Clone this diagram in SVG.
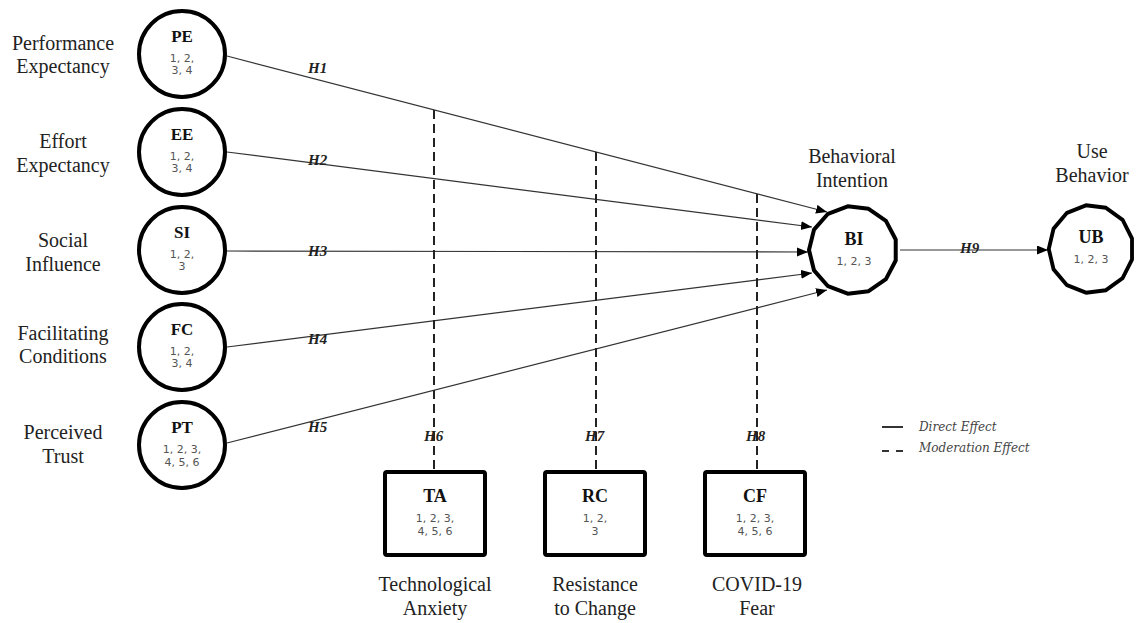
<svg xmlns="http://www.w3.org/2000/svg" xmlns:xlink="http://www.w3.org/1999/xlink" width="1137" height="623" viewBox="0 0 1137 623">
<style>
.lbl{font-family:"Liberation Serif","Times New Roman",serif;font-size:20px;fill:#222;text-anchor:middle}
.ttl{font-family:"Liberation Serif","Times New Roman",serif;font-size:17px;font-weight:bold;fill:#111;text-anchor:middle}
.num{font-family:"DejaVu Sans","Liberation Sans",sans-serif;font-size:11px;fill:#555;text-anchor:middle}
.hyp{font-family:"Liberation Serif","Times New Roman",serif;font-size:15px;font-weight:bold;font-style:italic;fill:#222}
.leg{font-family:"DejaVu Serif","Liberation Serif",serif;font-size:12px;font-style:italic;fill:#444}
.node{fill:#fff;stroke:#000;stroke-width:4;stroke-linejoin:round}
.direct{stroke:#333;stroke-width:1.2;fill:none}
.mod{stroke:#222;stroke-width:2;stroke-dasharray:9 5;fill:none}
</style>
<defs>
<marker id="arr" markerUnits="userSpaceOnUse" markerWidth="12" markerHeight="10" refX="11" refY="4.5" orient="auto">
<path d="M0,0 L11,4.5 L0,9 z" fill="#000"/>
</marker>
<polygon id="poly13" points="-44,0 -38.96,-20.45 -25,-36.21 -5.3,-43.68 15.6,-41.14 32.93,-29.18 42.72,-10.53 42.72,10.53 32.93,29.18 15.6,41.14 -5.3,43.68 -25,36.21 -38.96,20.45"/>
</defs>
<rect width="1137" height="623" fill="#fff"/>

<g id="connectors">
<line class="direct" x1="227" y1="56" x2="827" y2="212" marker-end="url(#arr)"/>
<line class="direct" x1="227" y1="152" x2="812" y2="227" marker-end="url(#arr)"/>
<line class="direct" x1="227" y1="251" x2="808" y2="252" marker-end="url(#arr)"/>
<line class="direct" x1="227" y1="347" x2="812" y2="273" marker-end="url(#arr)"/>
<line class="direct" x1="227" y1="443" x2="827" y2="290" marker-end="url(#arr)"/>
<line class="direct" x1="900" y1="250" x2="1048" y2="250" marker-end="url(#arr)"/>
<line class="mod" x1="434" y1="110" x2="434" y2="470"/>
<line class="mod" x1="596" y1="152" x2="596" y2="470"/>
<line class="mod" x1="757" y1="194" x2="757" y2="470"/>
<text class="hyp" x="308" y="73">H1</text>
<text class="hyp" x="308" y="165">H2</text>
<text class="hyp" x="308" y="256">H3</text>
<text class="hyp" x="308" y="344">H4</text>
<text class="hyp" x="308" y="432">H5</text>
<text class="hyp" x="424" y="441">H6</text>
<text class="hyp" x="585" y="441">H7</text>
<text class="hyp" x="746" y="441">H8</text>
<text class="hyp" x="960" y="253">H9</text>
</g>

<g id="PE">
<circle class="node" cx="182" cy="54" r="43"/>
<text class="ttl" x="182" y="42">PE</text>
<text class="num" x="182" y="62">1, 2,</text>
<text class="num" x="182" y="74">3, 4</text>
<text class="lbl" x="63" y="50">Performance</text>
<text class="lbl" x="63" y="73">Expectancy</text>
</g>
<g id="EE">
<circle class="node" cx="182" cy="152" r="43"/>
<text class="ttl" x="182" y="140">EE</text>
<text class="num" x="182" y="160">1, 2,</text>
<text class="num" x="182" y="172">3, 4</text>
<text class="lbl" x="63" y="148">Effort</text>
<text class="lbl" x="63" y="172">Expectancy</text>
</g>
<g id="SI">
<circle class="node" cx="182" cy="250" r="43"/>
<text class="ttl" x="182" y="238">SI</text>
<text class="num" x="182" y="258">1, 2,</text>
<text class="num" x="182" y="270">3</text>
<text class="lbl" x="63" y="247">Social</text>
<text class="lbl" x="63" y="271">Influence</text>
</g>
<g id="FC">
<circle class="node" cx="182" cy="347" r="43"/>
<text class="ttl" x="182" y="335">FC</text>
<text class="num" x="182" y="355">1, 2,</text>
<text class="num" x="182" y="367">3, 4</text>
<text class="lbl" x="63" y="340">Facilitating</text>
<text class="lbl" x="63" y="363">Conditions</text>
</g>
<g id="PT">
<circle class="node" cx="182" cy="445" r="43"/>
<text class="ttl" x="182" y="433">PT</text>
<text class="num" x="182" y="453">1, 2, 3,</text>
<text class="num" x="182" y="466">4, 5, 6</text>
<text class="lbl" x="63" y="439">Perceived</text>
<text class="lbl" x="63" y="463">Trust</text>
</g>
<g id="BI">
<use xlink:href="#poly13" href="#poly13" class="node" transform="translate(853,250)"/>
<text class="ttl" x="854" y="245" style="font-size:18px">BI</text>
<text class="num" x="854" y="265">1, 2, 3</text>
<text class="lbl" x="852" y="163">Behavioral</text>
<text class="lbl" x="852" y="187">Intention</text>
</g>
<g id="UB">
<use xlink:href="#poly13" href="#poly13" class="node" transform="translate(1091,249) scale(0.96,1)"/>
<text class="ttl" x="1091" y="243" style="font-size:18px">UB</text>
<text class="num" x="1091" y="263">1, 2, 3</text>
<text class="lbl" x="1092" y="158">Use</text>
<text class="lbl" x="1092" y="182">Behavior</text>
</g>
<g id="TA">
<rect class="node" x="385" y="472" width="100" height="83" rx="2"/>
<text class="ttl" x="435" y="502" style="font-size:18px">TA</text>
<text class="num" x="435" y="522">1, 2, 3,</text>
<text class="num" x="435" y="535">4, 5, 6</text>
<text class="lbl" x="435" y="591">Technological</text>
<text class="lbl" x="435" y="615">Anxiety</text>
</g>
<g id="RC">
<rect class="node" x="545" y="472" width="100" height="83" rx="2"/>
<text class="ttl" x="595" y="502" style="font-size:18px">RC</text>
<text class="num" x="595" y="522">1, 2,</text>
<text class="num" x="595" y="535">3</text>
<text class="lbl" x="595" y="591">Resistance</text>
<text class="lbl" x="595" y="615">to Change</text>
</g>
<g id="CF">
<rect class="node" x="705" y="472" width="100" height="83" rx="2"/>
<text class="ttl" x="755" y="502" style="font-size:18px">CF</text>
<text class="num" x="755" y="522">1, 2, 3,</text>
<text class="num" x="755" y="535">4, 5, 6</text>
<text class="lbl" x="757" y="591">COVID-19</text>
<text class="lbl" x="757" y="615">Fear</text>
</g>
<g id="legend">
<line x1="882" y1="427" x2="903" y2="427" stroke="#333" stroke-width="2"/>
<line x1="882" y1="451" x2="903" y2="451" stroke="#333" stroke-width="2" stroke-dasharray="7 7"/>
<text class="leg" x="919" y="431">Direct Effect</text>
<text class="leg" x="919" y="452">Moderation Effect</text>
</g>
</svg>
